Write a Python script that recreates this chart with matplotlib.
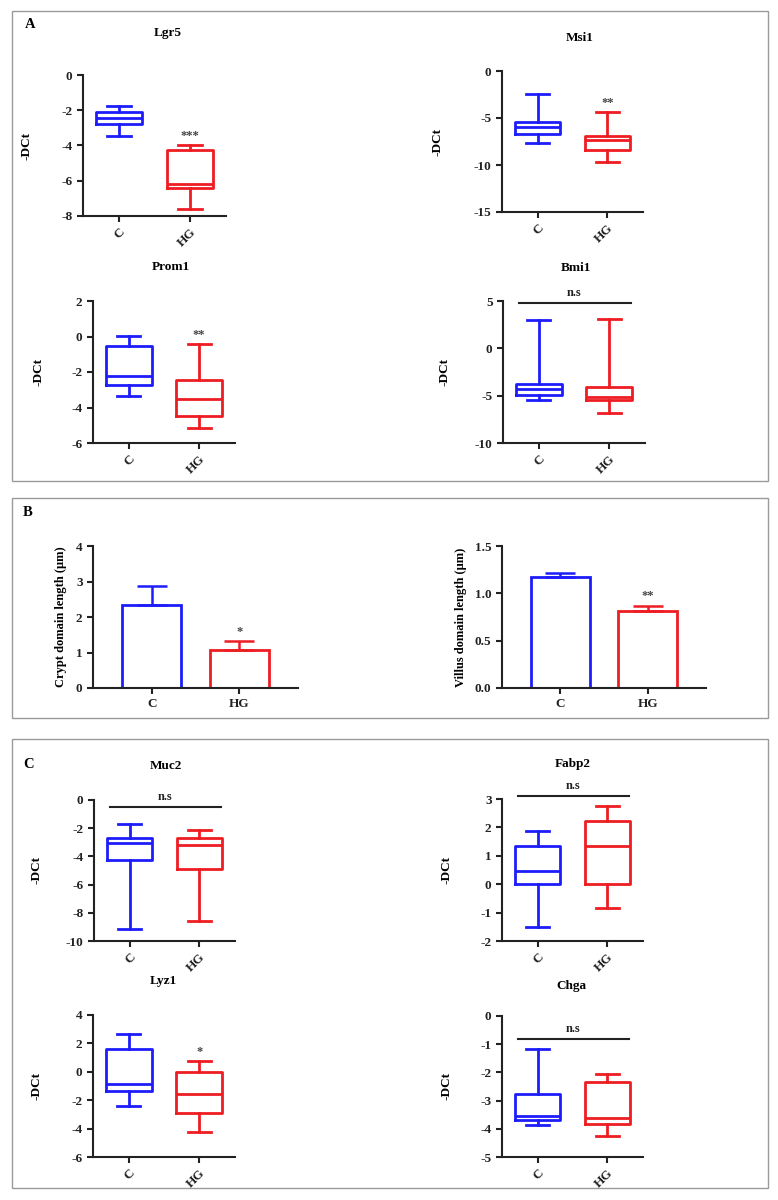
import matplotlib
matplotlib.use("Agg")
import matplotlib.pyplot as plt
from matplotlib.patches import Rectangle
from matplotlib.ticker import FormatStrFormatter

# box stats: [min, q1, median, q3, max]
groups = ["C", "HG"]

lgr5_c = [-3.46, -2.78, -2.46, -2.12, -1.76]
lgr5_hg = [-7.58, -6.39, -6.18, -4.23, -3.99]
msi1_c = [-7.64, -6.72, -5.98, -5.41, -2.41]
msi1_hg = [-9.73, -8.38, -7.36, -6.93, -4.39]
prom1_c = [-3.36, -2.72, -2.25, -0.55, 0.03]
prom1_hg = [-5.17, -4.50, -3.51, -2.46, -0.42]
bmi1_c = [-5.48, -4.88, -4.32, -3.79, 3.02]
bmi1_hg = [-6.86, -5.45, -5.16, -4.04, 3.13]

muc2_c = [-9.17, -4.29, -3.04, -2.73, -1.68]
muc2_hg = [-8.60, -4.88, -3.22, -2.73, -2.13]
fabp2_c = [-1.51, 0.00, 0.45, 1.33, 1.87]
fabp2_hg = [-0.85, 0.00, 1.36, 2.24, 2.77]
lyz1_c = [-2.38, -1.34, -0.85, 1.58, 2.68]
lyz1_hg = [-4.26, -2.89, -1.53, 0.02, 0.75]
chga_c = [-3.88, -3.68, -3.53, -2.78, -1.17]
chga_hg = [-4.24, -3.82, -3.63, -2.34, -2.07]

crypt_mean = [2.33, 1.08]
crypt_sem = [0.53, 0.23]
villus_mean = [1.174, 0.813]
villus_sem = [0.042, 0.056]

BLUE = "#1d1dfb"
RED = "#ee1d23"
SPINE = "#222222"
W, H = 778, 1200

plt.rcParams["font.family"] = ["Liberation Serif", "DejaVu Serif"]
plt.rcParams["font.weight"] = "bold"
plt.rcParams["axes.unicode_minus"] = False

fig = plt.figure(figsize=(W / 100, H / 100), dpi=100)


def add_ax(x0, x1, top, bottom):
    return fig.add_axes([x0 / W, 1 - bottom / H, (x1 - x0) / W, (bottom - top) / H])


def style_ax(ax, ylab, lab_x, x0, x1):
    for s in ["top", "right"]:
        ax.spines[s].set_visible(False)
    for s in ["left", "bottom"]:
        ax.spines[s].set_color(SPINE)
        ax.spines[s].set_linewidth(1.5)
    ax.tick_params(colors=SPINE, width=1.5, length=4, labelsize=9.5)
    ax.set_ylabel(ylab, fontsize=9.5, fontweight="bold")
    ax.yaxis.set_label_coords((lab_x - x0) / (x1 - x0), 0.5)


def box_panel(box, c, hg, yticks, title, title_xy, lab_x, mark=None, ns=None):
    x0, x1, top, bottom = box
    ax = add_ax(*box)
    stats = []
    for s in (c, hg):
        stats.append(dict(whislo=s[0], q1=s[1], med=s[2], q3=s[3], whishi=s[4], fliers=[]))
    bp = ax.bxp(stats, positions=[1, 2], widths=0.65, capwidths=0.33, showfliers=False)
    for i, col in enumerate([BLUE, RED]):
        bp["boxes"][i].set(color=col, linewidth=2.0)
        bp["medians"][i].set(color=col, linewidth=2.0)
        for el in bp["whiskers"][2 * i:2 * i + 2] + bp["caps"][2 * i:2 * i + 2]:
            el.set(color=col, linewidth=2.0)
    ax.set_xlim(0.49, 2.51)
    ax.set_ylim(yticks[0], yticks[-1])
    ax.set_yticks(yticks)
    ax.set_xticks([1, 2])
    ax.set_xticklabels(groups, rotation=45, ha="right", rotation_mode="anchor")
    style_ax(ax, "-DCt", lab_x, x0, x1)
    span = yticks[-1] - yticks[0]
    if mark:
        ax.text(2, hg[4] + 0.065 * span, mark, ha="center", va="center",
                fontsize=9, color="#444444")
    if ns is not None:
        ax.plot([0.72, 2.31], [ns, ns], color=SPINE, lw=1.5, clip_on=False)
        ax.text(1.5, ns + 0.07 * span, "n.s", ha="center", va="center",
                fontsize=9, fontweight="bold", color=SPINE)
    fig.text(title_xy[0] / W, 1 - title_xy[1] / H, title, ha="center", va="center",
             fontsize=9.5, fontweight="bold")
    return ax


def bar_panel(box, mean, sem, yticks, ylab, lab_x, mark, fmt):
    x0, x1, top, bottom = box
    ax = add_ax(*box)
    ax.bar([1, 2], mean, width=0.68, fill=False, edgecolor=[BLUE, RED], linewidth=2.0)
    for i, col in enumerate([BLUE, RED]):
        ax.errorbar(i + 1, mean[i], yerr=[[0], [sem[i]]], fmt="none", ecolor=col,
                    elinewidth=1.8, capsize=11, capthick=1.8)
    ax.set_xlim(0.33, 2.67)
    ax.set_ylim(yticks[0], yticks[-1])
    ax.set_yticks(yticks)
    ax.yaxis.set_major_formatter(FormatStrFormatter(fmt))
    ax.set_xticks([1, 2])
    style_ax(ax, ylab, lab_x, x0, x1)
    ax.set_ylabel(ylab, fontsize=9, fontweight="bold")
    ax.set_xticklabels(groups, fontsize=9.5)
    span = yticks[-1] - yticks[0]
    ax.text(2, mean[1] + sem[1] + 0.07 * span, mark, ha="center", va="center",
            fontsize=9, color="#444444")
    return ax


# panel A
box_panel((83, 226, 75, 216), lgr5_c, lgr5_hg, [-8, -6, -4, -2, 0], "Lgr5", (168, 33), 33, mark="***")
box_panel((502, 643, 71, 212), msi1_c, msi1_hg, [-15, -10, -5, 0], "Msi1", (580, 38), 443, mark="**")
box_panel((93, 235, 301, 443), prom1_c, prom1_hg, [-6, -4, -2, 0, 2], "Prom1", (171, 267), 45, mark="**")
box_panel((503, 645, 301, 443), bmi1_c, bmi1_hg, [-10, -5, 0, 5], "Bmi1", (576, 268), 450, ns=4.79)

# panel B
bar_panel((93, 298, 546, 688), crypt_mean, crypt_sem, [0, 1, 2, 3, 4],
          "Crypt domain length (\u03bcm)", 67, "*", "%d")
bar_panel((502, 706, 546, 688), villus_mean, villus_sem, [0.0, 0.5, 1.0, 1.5],
          "Villus domain length (\u03bcm)", 467, "**", "%.1f")

# panel C
box_panel((94, 235, 800, 941), muc2_c, muc2_hg, [-10, -8, -6, -4, -2, 0], "Muc2", (166, 766), 43, ns=-0.47)
box_panel((502, 643, 799, 941), fabp2_c, fabp2_hg, [-2, -1, 0, 1, 2, 3], "Fabp2", (573, 764), 452, ns=3.12)
box_panel((93, 235, 1015, 1157), lyz1_c, lyz1_hg, [-6, -4, -2, 0, 2, 4], "Lyz1", (163, 981), 43, mark="*")
box_panel((502, 643, 1016, 1157), chga_c, chga_hg, [-5, -4, -3, -2, -1, 0], "Chga", (571, 986), 452, ns=-0.80)

# panel frames and letters
for (top, bottom) in [(11, 481), (498, 718), (739, 1188)]:
    fig.add_artist(Rectangle((12 / W, 1 - bottom / H), 756 / W, (bottom - top) / H,
                             transform=fig.transFigure, fill=False, ec="#9a9a9a", lw=1.0))
for letter, (lx, ly) in zip(["A", "B", "C"], [(30, 25), (28, 512), (29, 765)]):
    fig.text(lx / W, 1 - ly / H, letter, ha="center", va="center", fontsize=10.5, fontweight="bold")

fig.savefig("out.png", dpi=100, facecolor="white")
